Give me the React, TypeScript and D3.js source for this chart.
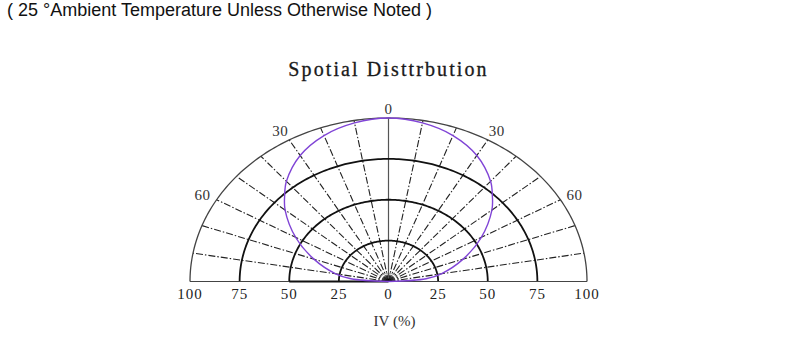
import React from "react";
import * as d3 from "d3";

const header = "( 25 °Ambient Temperature Unless Otherwise Noted )";
const title = "Spotial Disttrbution";
const axisTitle = "IV (%)";
const ringValues = [25, 50, 75, 100];
const spokeAngles = [-80, -70, -60, -50, -40, -30, -20, -10, 10, 20, 30, 40, 50, 60, 70, 80];
const angleLabels = [
  { a: 0, t: "0" },
  { a: -30, t: "30" },
  { a: 30, t: "30" },
  { a: -60, t: "60" },
  { a: 60, t: "60" },
];
const bottomTicks = [-100, -75, -50, -25, 0, 25, 50, 75, 100];
const bottomTickLabels = ["100", "75", "50", "25", "0", "25", "50", "75", "100"];
const curveAngles = [-90, -85, -80, -70, -60, -50, -45, -40, -30, -20, -10, 0, 10, 20, 30, 40, 45, 50, 60, 70, 80, 85, 90];
const curveValues = [0, 19, 27, 40, 54, 68, 74, 80, 89, 95, 98.5, 100, 98.5, 95, 89, 80, 74, 68, 54, 40, 27, 19, 0];

const W = 800;
const H = 352;
const cx = 388.5;
const cy = 281.5;
const sx = d3.scaleLinear().domain([0, 100]).range([0, 198.5]);
const sy = d3.scaleLinear().domain([0, 100]).range([0, 163.5]);

const pt = (angleDeg: number, r: number): [number, number] => {
  const t = (angleDeg * Math.PI) / 180;
  return [cx + sx(r) * Math.sin(t), cy - sy(r) * Math.cos(t)];
};

const lineGen = d3.line<[number, number]>();
const smoothGen = d3.line<[number, number]>().curve(d3.curveCatmullRom.alpha(0.5));

const arcPath = (r: number) =>
  lineGen(d3.range(-90, 90.5, 1).map((a) => pt(a, r))) || "";

const serif = "Liberation Serif, Times New Roman, serif";

export default function App() {
  const curvePts = curveAngles.map((a, i) => pt(a, curveValues[i]));
  return (
    <svg
      width={W}
      height={H}
      style={{ position: "absolute", left: 0, top: 0, background: "#fff" }}
    >
      <text
        x={7}
        y={16}
        fontFamily="Liberation Sans, Arial, sans-serif"
        fontSize={18}
        fill="#111"
      >
        {header}
      </text>
      <text
        x={cx}
        y={76}
        textAnchor="middle"
        fontFamily={serif}
        fontSize={20}
        letterSpacing={2.1}
        fill="#1a1a1a"
        stroke="#1a1a1a"
        strokeWidth={0.3}
      >
        {title}
      </text>

      {/* tiny arcs near center */}
      {[2.5, 5].map((r) => (
        <path key={"s" + r} d={arcPath(r)} fill="none" stroke="#666" strokeWidth={0.8} />
      ))}

      {/* spokes */}
      {spokeAngles.map((a) => {
        const [x2, y2] = pt(a, 100);
        return (
          <line
            key={"sp" + a}
            x1={cx}
            y1={cy}
            x2={x2}
            y2={y2}
            stroke="#222"
            strokeWidth={1.1}
            strokeDasharray="7,2,1.5,2"
          />
        );
      })}
      <line x1={cx} y1={cy} x2={cx} y2={pt(0, 100)[1]} stroke="#555" strokeWidth={1.2} />

      {/* rings */}
      {ringValues.map((r) => (
        <path
          key={"r" + r}
          d={arcPath(r)}
          fill="none"
          stroke={r === 100 ? "#444" : "#111"}
          strokeWidth={r === 100 ? 1.3 : 1.8}
        />
      ))}

      {/* baseline */}
      <line x1={pt(-90, 100)[0]} y1={cy} x2={pt(90, 100)[0]} y2={cy} stroke="#444" strokeWidth={1.2} />
      <line x1={pt(-90, 50)[0]} y1={cy} x2={cx} y2={cy} stroke="#111" strokeWidth={1.8} />

      {/* center blob */}
      <path d={arcPath(1.5)} fill="#111" stroke="#111" strokeWidth={1} />

      {/* distribution curve */}
      <path d={smoothGen(curvePts) || ""} fill="none" stroke="#8044d6" strokeWidth={1.4} />

      {/* angle labels */}
      {angleLabels.map((l, i) => {
        const [x, y] = pt(l.a, 100);
        const off =
          l.a === 0 ? [0, -4] : Math.abs(l.a) === 30 ? [9, -4] : [14, 0];
        const dx = l.a < 0 ? -off[0] : off[0];
        return (
          <text
            key={"al" + i}
            x={x + dx}
            y={y + off[1]}
            textAnchor="middle"
            fontFamily={serif}
            fontSize={15}
            letterSpacing={0.5}
            fill="#333"
          >
            {l.t}
          </text>
        );
      })}

      {/* bottom tick labels */}
      {bottomTicks.map((v, i) => (
        <text
          key={"bt" + i}
          x={cx + Math.sign(v) * sx(Math.abs(v))}
          y={298.5}
          textAnchor="middle"
          fontFamily={serif}
          fontSize={15}
          letterSpacing={1}
          fill="#222"
        >
          {bottomTickLabels[i]}
        </text>
      ))}

      <text
        x={cx + 6}
        y={326}
        textAnchor="middle"
        fontFamily={serif}
        fontSize={15}
        fill="#333"
      >
        {axisTitle}
      </text>
    </svg>
  );
}
